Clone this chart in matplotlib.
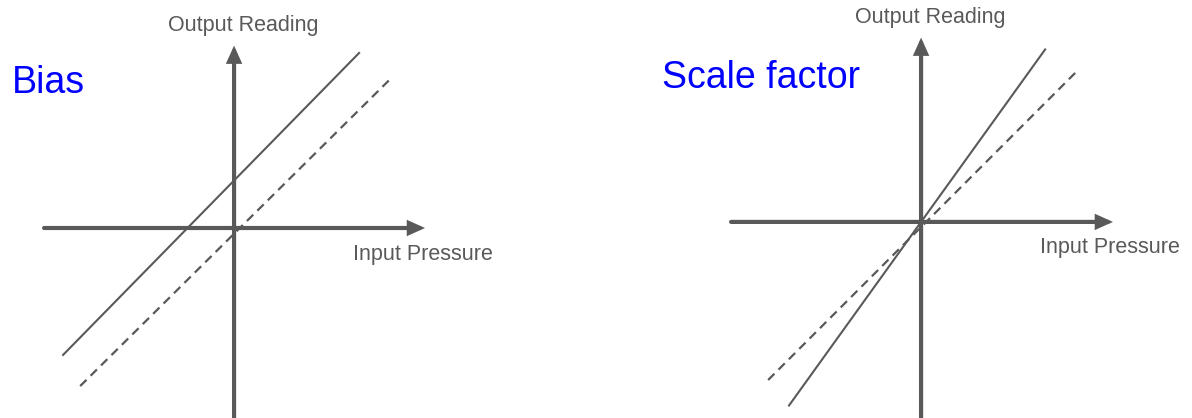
import matplotlib.pyplot as plt

plt.rcParams['font.family'] = ['Liberation Sans', 'DejaVu Sans']

# panel titles and axis labels
titles = ["Bias", "Scale factor"]
x_label = "Input Pressure"
y_label = "Output Reading"

# lines: y = slope * x + intercept, drawn between x_start and x_end
# (Bias panel: shifted line vs. true line; Scale factor panel: steeper line vs. true line)
true_slope = [0.99, 1.0]
true_intercept = [-0.03, -0.027]
true_x = [(-0.81, 0.83), (-0.805, 0.832)]

meas_slope = [1.02, 1.39]
meas_intercept = [0.25, 0.0]
meas_x = [(-0.90, 0.658), (-0.695, 0.653)]

grey = "#595959"

fig = plt.figure(figsize=(11.92, 4.18), dpi=100)
ax_left = fig.add_axes([0, 0, 0.5, 1])
ax_right = fig.add_axes([0.5, 0, 0.5, 1])
axes = [ax_left, ax_right]

# limits chosen so both panels share the same scale
xlims = [(-1.232, 1.905), (-1.711, 1.426)]
ylims = [(-1.0, 1.2), (-1.032, 1.168)]
axis_x_extent = [(-1.0, 1.005), (-1.0, 1.01)]
axis_y_extent = [(-1.0, 0.96), (-1.032, 0.97)]

for i, ax in enumerate(axes):
    ax.set_xlim(*xlims[i])
    ax.set_ylim(*ylims[i])
    ax.axis("off")

    arrow = dict(arrowstyle="-|>,head_length=0.8,head_width=0.36",
                 lw=3, color=grey, shrinkA=0, shrinkB=0, joinstyle="miter")
    x0, x1 = axis_x_extent[i]
    ax.annotate("", xy=(x1, 0), xytext=(x0, 0), arrowprops=arrow)
    y0, y1 = axis_y_extent[i]
    ax.annotate("", xy=(0, y1), xytext=(0, y0), arrowprops=arrow)

    xs = true_x[i]
    ax.plot(xs, [true_slope[i] * x + true_intercept[i] for x in xs],
            color=grey, lw=1.6, linestyle=(0, (4, 2.6)))
    xs = meas_x[i]
    ax.plot(xs, [meas_slope[i] * x + meas_intercept[i] for x in xs],
            color=grey, lw=1.5)

    ax.text(0.047, [1.068, 1.074][i], y_label, ha="center", va="center",
            fontsize=15.5, color=grey)
    ax.text(0.626, [-0.137, -0.132][i], x_label, ha="left", va="center",
            fontsize=15.5, color=grey)
    ax.text([-1.168, -1.363][i], [0.763, 0.758][i], titles[i], ha="left",
            va="center", fontsize=27, color="#0000FF")

fig.savefig("out.png", dpi=100)
